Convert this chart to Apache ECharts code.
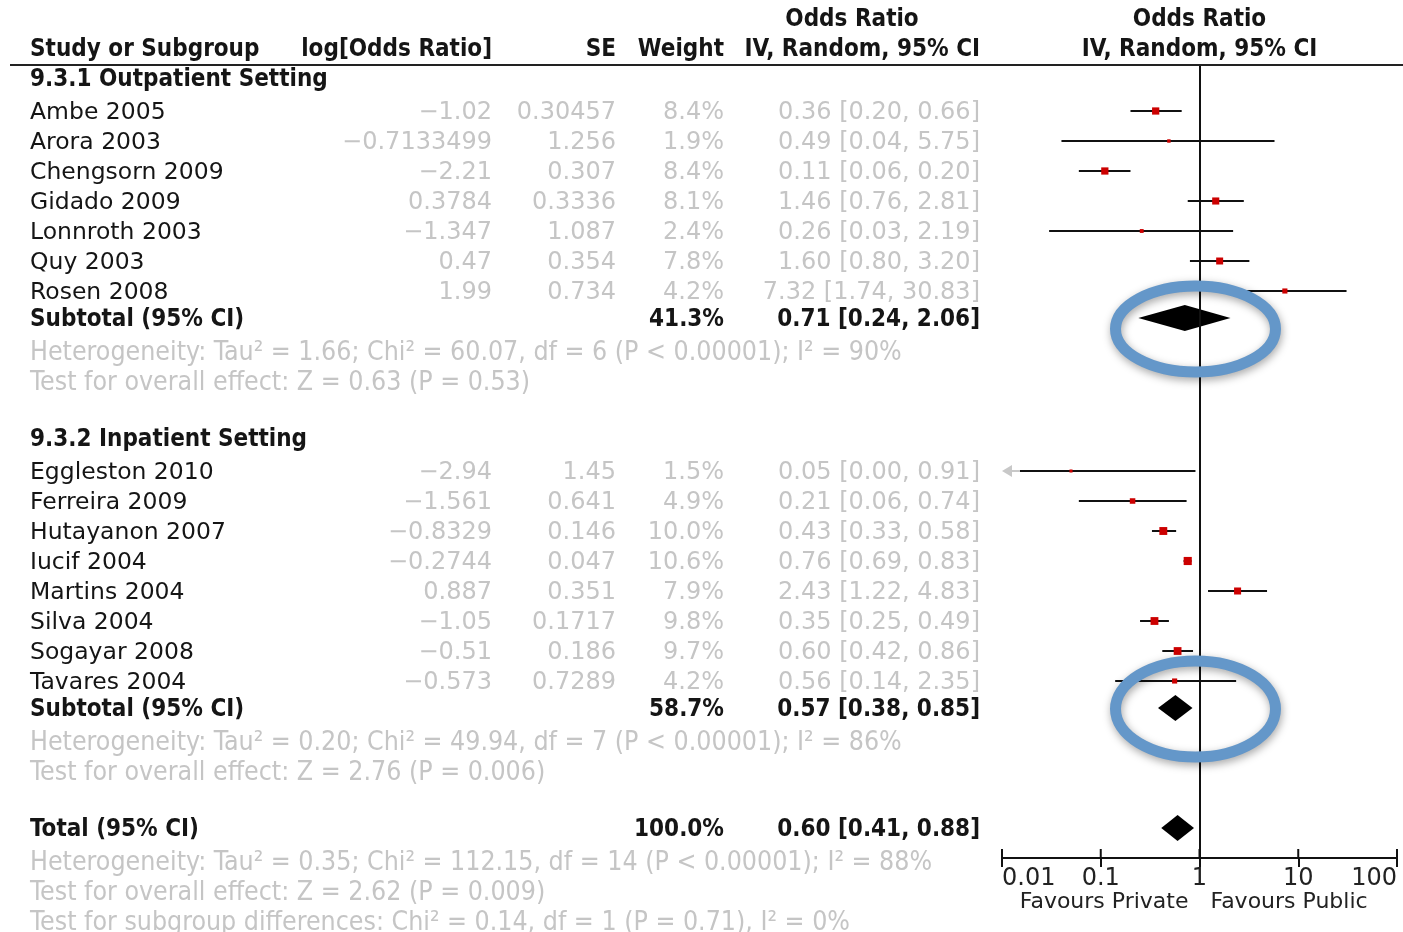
<!DOCTYPE html>
<html>
<head>
<meta charset="utf-8">
<script src="https://cdn.jsdelivr.net/npm/echarts@6/dist/echarts.min.js"></script>
<style>
  html, body { margin: 0; padding: 0; background: #fff; }
  #chart { width: 1403px; height: 932px; }
</style>
</head>
<body>
<div id="chart"></div>
<script>
// ---- 9.3.1 Outpatient Setting ----
const outStudies = ['Ambe 2005', 'Arora 2003', 'Chengsorn 2009', 'Gidado 2009', 'Lonnroth 2003', 'Quy 2003', 'Rosen 2008'];
const outLogOR   = [-1.02, -0.7133499, -2.21, 0.3784, -1.347, 0.47, 1.99];
const outSE      = [0.30457, 1.256, 0.307, 0.3336, 1.087, 0.354, 0.734];
const outWeight  = [8.4, 1.9, 8.4, 8.1, 2.4, 7.8, 4.2];
const outOR      = [0.36, 0.49, 0.11, 1.46, 0.26, 1.60, 7.32];
const outLow     = [0.20, 0.04, 0.06, 0.76, 0.03, 0.80, 1.74];
const outHigh    = [0.66, 5.75, 0.20, 2.81, 2.19, 3.20, 30.83];
const outSubtotal = [41.3, 0.71, 0.24, 2.06];   // weight, OR, low, high
const outStats = [
  'Heterogeneity: Tau² = 1.66; Chi² = 60.07, df = 6 (P < 0.00001); I² = 90%',
  'Test for overall effect: Z = 0.63 (P = 0.53)'
];

// ---- 9.3.2 Inpatient Setting ----
const inStudies = ['Eggleston 2010', 'Ferreira 2009', 'Hutayanon 2007', 'Iucif 2004', 'Martins 2004', 'Silva 2004', 'Sogayar 2008', 'Tavares 2004'];
const inLogOR   = [-2.94, -1.561, -0.8329, -0.2744, 0.887, -1.05, -0.51, -0.573];
const inSE      = [1.45, 0.641, 0.146, 0.047, 0.351, 0.1717, 0.186, 0.7289];
const inWeight  = [1.5, 4.9, 10.0, 10.6, 7.9, 9.8, 9.7, 4.2];
const inOR      = [0.05, 0.21, 0.43, 0.76, 2.43, 0.35, 0.60, 0.56];
const inLow     = [0.00, 0.06, 0.33, 0.69, 1.22, 0.25, 0.42, 0.14];
const inHigh    = [0.91, 0.74, 0.58, 0.83, 4.83, 0.49, 0.86, 2.35];
const inSubtotal = [58.7, 0.57, 0.38, 0.85];
const inStats = [
  'Heterogeneity: Tau² = 0.20; Chi² = 49.94, df = 7 (P < 0.00001); I² = 86%',
  'Test for overall effect: Z = 2.76 (P = 0.006)'
];

// ---- Overall ----
const total = [100.0, 0.60, 0.41, 0.88];
const totalStats = [
  'Heterogeneity: Tau² = 0.35; Chi² = 112.15, df = 14 (P < 0.00001); I² = 88%',
  'Test for overall effect: Z = 2.62 (P = 0.009)',
  'Test for subgroup differences: Chi² = 0.14, df = 1 (P = 0.71), I² = 0%'
];

const groupTitles = ['9.3.1 Outpatient Setting', '9.3.2 Inpatient Setting'];
const axisTicks = [0.01, 0.1, 1, 10, 100];
const favours = ['Favours Private', 'Favours Public'];

// ---- layout ----
const X_MIN = 0.01, X_MAX = 100;
const ROWS_IN_GRID = 26.4;          // one unit = one table row (30px)
const COL = { name: 30, log: 492, se: 616, weight: 724, ci: 980, orHead: 852 };
const FONT = {
  name:  '23.5px "DejaVu Sans", sans-serif',
  gray:  '24px "DejaVu Sans", sans-serif',
  bold:  'bold 24px "DejaVu Sans Condensed", "DejaVu Sans", sans-serif',
  stat:  '26.5px "DejaVu Sans Condensed", "DejaVu Sans", sans-serif',
  axis:  '22px "DejaVu Sans", sans-serif'
};
const INK = '#151515', GRAY = '#c5c5c5';
const TEXT_DY = 2;

const fmtSigned = v => String(v).replace('-', '\u2212');
const fmtCI = (o, l, h) => o.toFixed(2) + ' [' + l.toFixed(2) + ', ' + h.toFixed(2) + ']';

// Build table rows, the study points and the pooled diamonds.
const tableRows = [];
const studyData = [];
const diamondData = [];
const ringRows = [];

tableRows.push({ pos: -1.6, cells: [
  { t: 'Odds Ratio', x: COL.orHead, a: 'center', f: 'bold' },
  { t: 'Odds Ratio', plot: true, a: 'center', f: 'bold' }
]});
tableRows.push({ pos: -0.6, cells: [
  { t: 'Study or Subgroup', x: COL.name, a: 'left', f: 'bold' },
  { t: 'log[Odds Ratio]', x: COL.log, a: 'right', f: 'bold' },
  { t: 'SE', x: COL.se, a: 'right', f: 'bold' },
  { t: 'Weight', x: COL.weight, a: 'right', f: 'bold' },
  { t: 'IV, Random, 95% CI', x: COL.ci, a: 'right', f: 'bold' },
  { t: 'IV, Random, 95% CI', plot: true, a: 'center', f: 'bold' }
]});

let pos = 0.4;
function addGroup(title, names, logs, ses, ws, ors, lows, highs, sub, stats) {
  tableRows.push({ pos, cells: [{ t: title, x: COL.name, a: 'left', f: 'bold' }] });
  pos += 1.1;
  names.forEach((n, i) => {
    tableRows.push({ pos, cells: [
      { t: n, x: COL.name, a: 'left', f: 'name' },
      { t: fmtSigned(logs[i]), x: COL.log, a: 'right', f: 'gray' },
      { t: String(ses[i]), x: COL.se, a: 'right', f: 'gray' },
      { t: ws[i].toFixed(1) + '%', x: COL.weight, a: 'right', f: 'gray' },
      { t: fmtCI(ors[i], lows[i], highs[i]), x: COL.ci, a: 'right', f: 'gray' }
    ]});
    studyData.push([ors[i], lows[i], highs[i], ws[i], pos]);
    pos += 1;
  });
  pos -= 0.1;
  tableRows.push({ pos, cells: [
    { t: 'Subtotal (95% CI)', x: COL.name, a: 'left', f: 'bold' },
    { t: sub[0].toFixed(1) + '%', x: COL.weight, a: 'right', f: 'bold' },
    { t: fmtCI(sub[1], sub[2], sub[3]), x: COL.ci, a: 'right', f: 'bold' }
  ]});
  diamondData.push([sub[1], sub[2], sub[3], pos]);
  ringRows.push([sub[1], pos]);
  pos += 1.1;
  stats.forEach(s => {
    tableRows.push({ pos, cells: [{ t: s, x: COL.name, a: 'left', f: 'stat' }] });
    pos += 1;
  });
  pos += 0.9;
}
addGroup(groupTitles[0], outStudies, outLogOR, outSE, outWeight, outOR, outLow, outHigh, outSubtotal, outStats);
addGroup(groupTitles[1], inStudies, inLogOR, inSE, inWeight, inOR, inLow, inHigh, inSubtotal, inStats);
tableRows.push({ pos, cells: [
  { t: 'Total (95% CI)', x: COL.name, a: 'left', f: 'bold' },
  { t: total[0].toFixed(1) + '%', x: COL.weight, a: 'right', f: 'bold' },
  { t: fmtCI(total[1], total[2], total[3]), x: COL.ci, a: 'right', f: 'bold' }
]});
diamondData.push([total[1], total[2], total[3], pos]);
pos += 1.1;
totalStats.forEach(s => {
  tableRows.push({ pos, cells: [{ t: s, x: COL.name, a: 'left', f: 'stat' }] });
  pos += 1;
});
// Direction labels under the axis
tableRows.push({ pos: 27.8, cells: [
  { t: favours[0], plot: true, dx: -11, a: 'right', f: 'axis' },
  { t: favours[1], plot: true, dx: 11, a: 'left', f: 'axis' }
]});

const COLOR_OF = { name: INK, gray: GRAY, bold: INK, stat: GRAY, axis: '#222' };

function renderTable(params, api) {
  const row = tableRows[api.value(2)];
  const p = api.coord([1, api.value(1)]);
  return {
    type: 'group',
    children: row.cells.map(c => ({
      type: 'text',
      style: {
        text: c.t,
        x: c.plot ? p[0] + (c.dx || 0) : c.x,
        y: p[1] + TEXT_DY,
        font: FONT[c.f],
        fill: COLOR_OF[c.f],
        align: c.a,
        verticalAlign: 'middle'
      }
    }))
  };
}

function renderStudy(params, api) {
  const or = api.value(0), lo = api.value(1), hi = api.value(2), w = api.value(3), row = api.value(4);
  const c = api.coord([or, row]);
  const y = c[1];
  const clipped = lo < X_MIN;
  const xl = api.coord([clipped ? X_MIN : lo, row])[0];
  const xh = api.coord([Math.min(hi, X_MAX), row])[0];
  const s = 2.5 * Math.sqrt(w);
  const children = [];
  children.push({ type: 'line', shape: { x1: clipped ? xl + 18 : xl, y1: y, x2: xh, y2: y },
                  style: { stroke: '#111', lineWidth: 2 } });
  if (clipped) {
    children.push({ type: 'line', shape: { x1: xl + 6, y1: y, x2: xl + 18, y2: y },
                    style: { stroke: '#c8c8c8', lineWidth: 2 } });
    children.push({ type: 'polygon', shape: { points: [[xl, y], [xl + 10, y - 6], [xl + 10, y + 6]] },
                    style: { fill: '#c8c8c8' } });
  }
  children.push({ type: 'rect', shape: { x: c[0] - s / 2, y: y - s / 2, width: s, height: s },
                  style: { fill: '#cc0000' } });
  return { type: 'group', children };
}

function renderDiamond(params, api) {
  const row = api.value(3);
  const c = api.coord([api.value(0), row]);
  const xl = api.coord([api.value(1), row])[0];
  const xh = api.coord([api.value(2), row])[0];
  const h = 13;
  return {
    type: 'polygon',
    shape: { points: [[xl, c[1]], [c[0], c[1] - h], [xh, c[1]], [c[0], c[1] + h]] },
    style: { fill: '#000' }
  };
}

// Upper half of the axis ticks (ECharts draws the lower half)
function renderUpTick(params, api) {
  const p = api.coord([api.value(0), ROWS_IN_GRID]);
  return { type: 'line', shape: { x1: p[0], y1: p[1], x2: p[0], y2: p[1] - 9 },
           style: { stroke: '#111', lineWidth: 2 } };
}

// Highlight rings drawn around the two subgroup diamonds
const ringShape = [{ dy: 11, rx: 80, ry: 43 }, { dy: 1, rx: 80, ry: 48 }];
function renderRing(params, api) {
  const k = params.dataIndex;
  const c = api.coord([1, api.value(1)]);
  const cx = c[0] - 4, cy = c[1] + ringShape[k].dy;
  const rx = ringShape[k].rx, ry = ringShape[k].ry;
  const d = 'M' + (cx - rx) + ' ' + cy +
            ' A' + rx + ' ' + ry + ' 0 1 0 ' + (cx + rx) + ' ' + cy +
            ' A' + rx + ' ' + ry + ' 0 1 0 ' + (cx - rx) + ' ' + cy + ' Z';
  return {
    type: 'path',
    shape: { pathData: d },
    style: {
      fill: null, stroke: '#6497c9', lineWidth: 11,
      shadowBlur: 8, shadowOffsetX: 1, shadowOffsetY: 3, shadowColor: 'rgba(0,0,0,0.35)'
    }
  };
}

const chart = echarts.init(document.getElementById('chart'), null, { renderer: 'canvas' });
chart.setOption({
  animation: false,
  backgroundColor: '#fff',
  grid: { left: 1002, right: 6, top: 66, bottom: 74, containLabel: false },
  xAxis: {
    type: 'log', logBase: 10, min: X_MIN, max: X_MAX, position: 'bottom',
    splitLine: { show: false },
    axisLine: { show: true, onZero: false, lineStyle: { color: '#111', width: 2 } },
    axisTick: { show: true, inside: false, length: 9, lineStyle: { color: '#111', width: 2 },
                customValues: axisTicks },
    axisLabel: {
      show: true, margin: 9, color: '#222', fontSize: 24, fontFamily: 'DejaVu Sans',
      alignMinLabel: 'left', alignMaxLabel: 'right',
      customValues: axisTicks,
      formatter: v => String(+(+v).toPrecision(6))
    }
  },
  yAxis: { type: 'value', min: 0, max: ROWS_IN_GRID, inverse: true, show: false },
  graphic: [{
    type: 'line', shape: { x1: 10, y1: 65, x2: 1403, y2: 65 },
    style: { stroke: '#222', lineWidth: 2 }, z: 10
  }],
  series: [
    {
      type: 'custom', name: 'studies', clip: false, z: 3,
      renderItem: renderStudy, data: studyData, encode: { x: 0, y: 4 },
      markLine: {
        silent: true, symbol: 'none', label: { show: false },
        lineStyle: { color: '#111', width: 2, type: 'solid' },
        data: [{ xAxis: 1 }]
      }
    },
    { type: 'custom', name: 'pooled', clip: false, z: 4,
      renderItem: renderDiamond, data: diamondData, encode: { x: 0, y: 3 } },
    { type: 'custom', name: 'ticks', clip: false, z: 2, silent: true,
      renderItem: renderUpTick, data: axisTicks.map(v => [v, ROWS_IN_GRID]), encode: { x: 0, y: 1 } },
    { type: 'custom', name: 'table', clip: false, z: 5, silent: true,
      renderItem: renderTable, data: tableRows.map((r, i) => [1, r.pos, i]), encode: { x: 0, y: 1 } },
    { type: 'custom', name: 'rings', clip: false, z: 6, silent: true,
      renderItem: renderRing, data: ringRows, encode: { x: 0, y: 1 } }
  ]
});
</script>
</body>
</html>
